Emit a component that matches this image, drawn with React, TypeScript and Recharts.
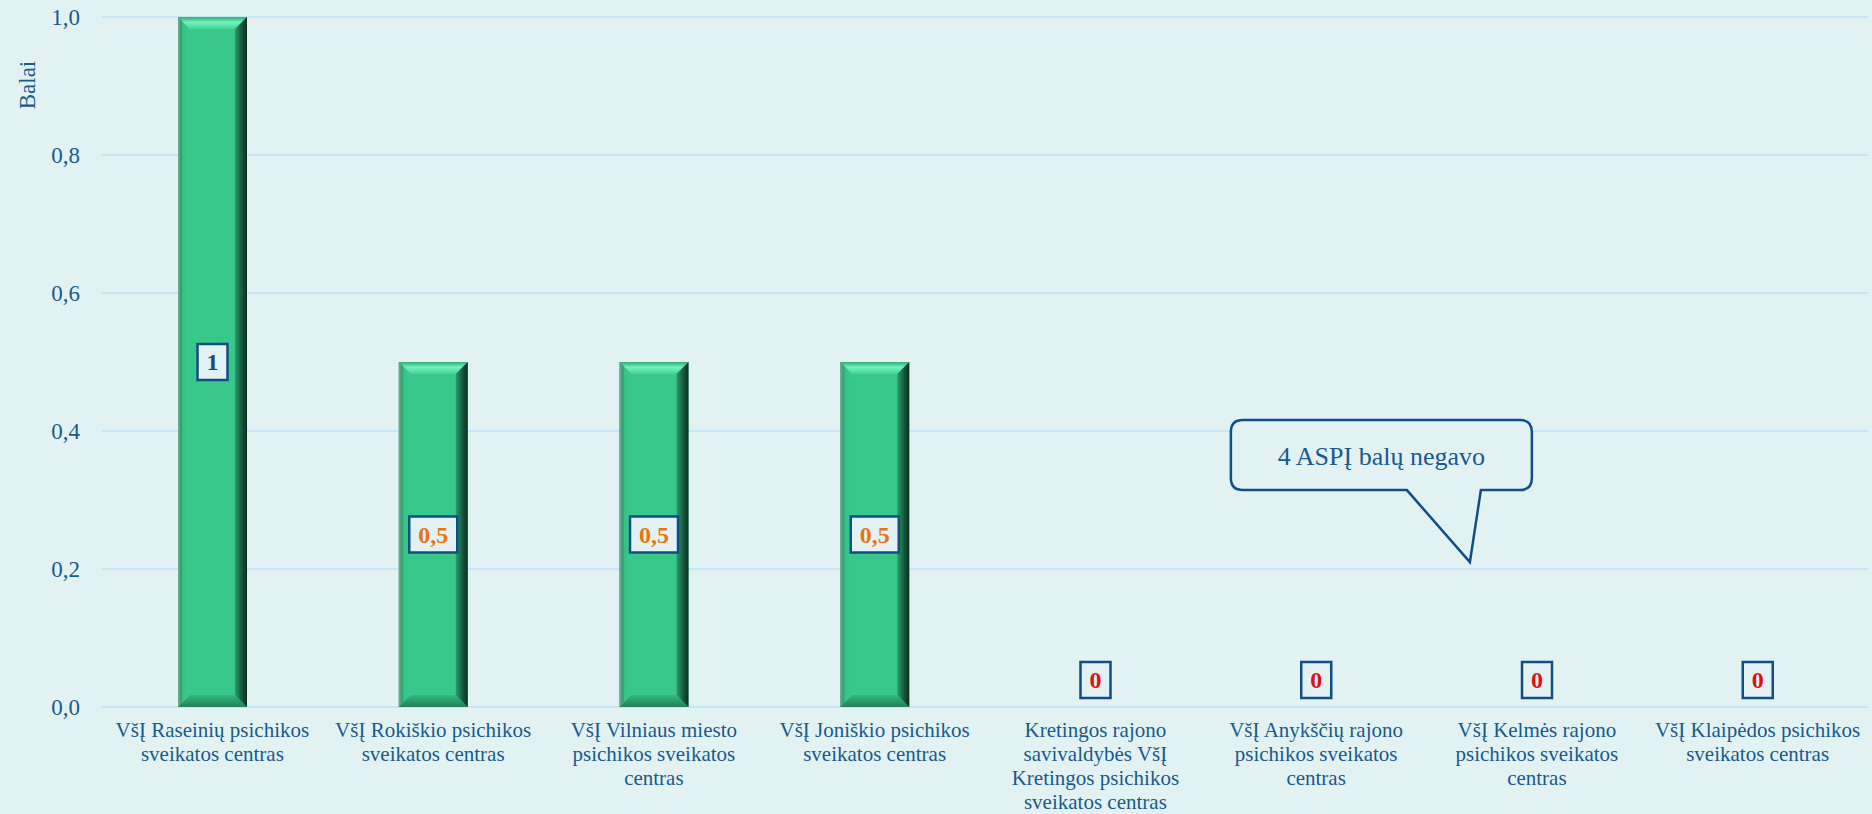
import React from 'react';
import { BarChart, Bar, XAxis, YAxis, CartesianGrid, LabelList, ReferenceDot } from 'recharts';

const categories = [
  'VšĮ Raseinių psichikos sveikatos centras',
  'VšĮ Rokiškio psichikos sveikatos centras',
  'VšĮ Vilniaus miesto psichikos sveikatos centras',
  'VšĮ Joniškio psichikos sveikatos centras',
  'Kretingos rajono savivaldybės VšĮ Kretingos psichikos sveikatos centras',
  'VšĮ Anykščių rajono psichikos sveikatos centras',
  'VšĮ Kelmės rajono psichikos sveikatos centras',
  'VšĮ Klaipėdos psichikos sveikatos centras',
];
const scores = [1, 0.5, 0.5, 0.5, 0, 0, 0, 0];
const yTicks = [0, 0.2, 0.4, 0.6, 0.8, 1];
const yTitle = 'Balai';
const calloutText = '4 ASPĮ balų negavo';
const calloutCategory = categories[6];
const calloutValue = 0.21;

const data = categories.map((name, i) => ({ name, value: scores[i] }));

const FONT = '"Liberation Serif", "Times New Roman", serif';
const TEXT = '#185a8c';
const BORDER = '#0f4f86';
const BG = '#e2f2f3';

const comma = (v: number) => String(v).replace('.', ',');

// naive word wrap, about 24 characters per line
const wrap = (s: string, max = 24) => {
  const lines: string[] = [];
  let cur = '';
  s.split(' ').forEach((w) => {
    const next = cur ? cur + ' ' + w : w;
    if (next.length > max && cur) {
      lines.push(cur);
      cur = w;
    } else cur = next;
  });
  if (cur) lines.push(cur);
  return lines;
};

const WrappedTick = (props: any) => {
  const { x, y, payload } = props;
  const lines = wrap(String(payload.value));
  return (
    <text x={x} y={y + 30} textAnchor="middle" fill={TEXT} fontFamily={FONT} fontSize={21}>
      {lines.map((l, i) => (
        <tspan key={i} x={x} dy={i === 0 ? 0 : 24}>{l}</tspan>
      ))}
    </text>
  );
};

const BevelBar = (props: any) => {
  const { x, y, width: w, height: h } = props;
  if (!h || h <= 0) return null;
  const b = 12;
  return (
    <g>
      <rect x={x} y={y} width={w} height={h} fill="url(#barFace)" />
      <polygon points={`${x},${y} ${x + w},${y} ${x + w - b},${y + b} ${x + b},${y + b}`} fill="url(#barTop)" />
      <polygon points={`${x},${y + h} ${x + w},${y + h} ${x + w - b},${y + h - b} ${x + b},${y + h - b}`} fill="url(#barBottom)" />
      <polygon points={`${x + w},${y} ${x + w},${y + h} ${x + w - b},${y + h - b} ${x + w - b},${y + b}`} fill="url(#barRight)" />
      <polygon points={`${x},${y} ${x + 4},${y + 4} ${x + 4},${y + h - 4} ${x},${y + h}`} fill="url(#barLeft)" />
    </g>
  );
};

const labelColor = (v: number) => (v >= 1 ? '#0f4f86' : v > 0 ? '#e8750f' : '#e01010');

const BoxLabel = (props: any) => {
  const vb = props.viewBox || props;
  const x = vb.x ?? props.x;
  const y = vb.y ?? props.y;
  const width = vb.width ?? props.width;
  const height = vb.height ?? props.height;
  const v = Number(props.value);
  const txt = comma(v);
  const tw = txt.split('').reduce((a, c) => a + (c === ',' ? 6 : 12), 0);
  const bw = tw + 18;
  const bh = 36;
  const cx = x + width / 2;
  const cy = v > 0 ? y + height / 2 : y + height - 27;
  return (
    <g>
      <rect x={cx - bw / 2} y={cy - bh / 2} width={bw} height={bh} fill={BG} stroke={BORDER} strokeWidth={2.5} />
      <text x={cx} y={cy + 8} textAnchor="middle" fontFamily={FONT} fontWeight="bold" fontSize={24} fill={labelColor(v)}>
        {txt}
      </text>
    </g>
  );
};

const Callout = (props: any) => {
  const tx = props.cx - 67;
  const ty = props.cy;
  const L = tx - 239, R = tx + 62, T = ty - 142, B = ty - 72, r = 12;
  const a = tx - 63, c = tx + 11;
  const d = `M${L + r},${T} H${R - r} Q${R},${T} ${R},${T + r} V${B - r} Q${R},${B} ${R - r},${B} H${c} L${tx},${ty} L${a},${B} H${L + r} Q${L},${B} ${L},${B - r} V${T + r} Q${L},${T} ${L + r},${T} Z`;
  return (
    <g>
      <path d={d} fill={BG} stroke={BORDER} strokeWidth={2.5} strokeLinejoin="miter" />
      <text x={(L + R) / 2} y={ty - 97} textAnchor="middle" fontFamily={FONT} fontSize={26} fill={TEXT}>
        {calloutText}
      </text>
    </g>
  );
};

const App: React.FC = () => {
  return (
    <div style={{ width: 1872, height: 814, background: BG }}>
      <style>{`body{margin:0}`}</style>
      <BarChart width={1872} height={814} data={data} margin={{ top: 17, right: 4, left: 0, bottom: 0 }}>
        <defs>
          <linearGradient id="barFace" x1="0" y1="0" x2="1" y2="0">
            <stop offset="0%" stopColor="#2a9a6a" />
            <stop offset="6%" stopColor="#35c086" />
            <stop offset="14%" stopColor="#38c98a" />
            <stop offset="100%" stopColor="#38c98a" />
          </linearGradient>
          <linearGradient id="barTop" x1="0" y1="0" x2="0" y2="1">
            <stop offset="0%" stopColor="#2fae78" />
            <stop offset="45%" stopColor="#72f2bf" />
            <stop offset="100%" stopColor="#44d294" />
          </linearGradient>
          <linearGradient id="barBottom" x1="0" y1="0" x2="0" y2="1">
            <stop offset="0%" stopColor="#33b87e" />
            <stop offset="100%" stopColor="#247f57" />
          </linearGradient>
          <linearGradient id="barRight" x1="0" y1="0" x2="1" y2="0">
            <stop offset="0%" stopColor="#2a9c69" />
            <stop offset="60%" stopColor="#16553a" />
            <stop offset="100%" stopColor="#0b2e1f" />
          </linearGradient>
          <linearGradient id="barLeft" x1="0" y1="0" x2="1" y2="0">
            <stop offset="0%" stopColor="#6fae94" />
            <stop offset="100%" stopColor="#2a9a6a" />
          </linearGradient>
        </defs>
        <CartesianGrid horizontal vertical={false} stroke="#c6e5f7" strokeWidth={2} />
        <XAxis
          dataKey="name"
          axisLine={false}
          tickLine={false}
          tickSize={0}
          tickMargin={0}
          interval={0}
          height={107}
          tick={<WrappedTick />}
        />
        <YAxis
          domain={[0, 1]}
          ticks={yTicks}
          width={102}
          axisLine={false}
          tickLine={false}
          tickSize={0}
          tickMargin={22}
          tickFormatter={(v: number) => v.toFixed(1).replace('.', ',')}
          tick={{ fill: TEXT, fontFamily: FONT, fontSize: 23 }}
          label={{
            value: yTitle,
            content: () => (
              <text x={27} y={85} transform="rotate(-90 27 85)" textAnchor="middle" dominantBaseline="central" fontFamily={FONT} fontSize={23} fill={TEXT}>
                {yTitle}
              </text>
            ),
          }}
        />
        <Bar dataKey="value" barSize={69} shape={<BevelBar />} isAnimationActive={false}>
          <LabelList dataKey="value" content={<BoxLabel />} />
        </Bar>
        <ReferenceDot x={calloutCategory} y={calloutValue} r={0} shape={<Callout />} ifOverflow="visible" />
      </BarChart>
    </div>
  );
};

export default App;
